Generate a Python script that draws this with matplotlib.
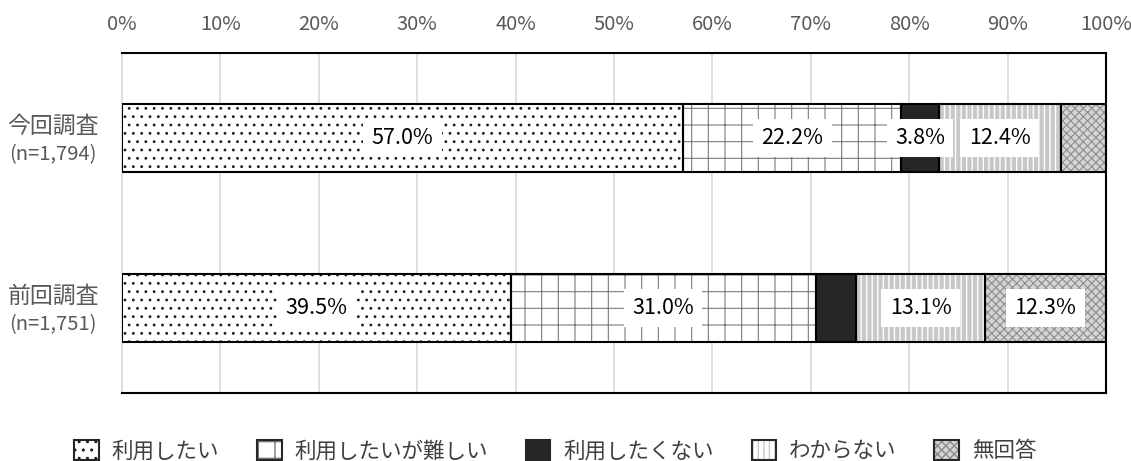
import numpy as np
import matplotlib as mpl
import matplotlib.pyplot as plt
from matplotlib.patches import Patch
from matplotlib.legend_handler import HandlerTuple

plt.rcParams['font.family'] = ['Noto Sans CJK JP', 'DejaVu Sans']

# 調査ごとの回答割合 (%)
surveys = ['今回調査', '前回調査']
samples = ['(n=1,794)', '(n=1,751)']
answers = ['利用したい', '利用したいが難しい', '利用したくない', 'わからない', '無回答']
this_time = [57.0, 22.2, 3.8, 12.4, 4.6]
last_time = [39.5, 31.0, 4.1, 13.1, 12.3]
# 表示するラベル (空欄は表示なし)
this_labels = ['57.0%', '22.2%', '3.8%', '12.4%', '']
last_labels = ['39.5%', '31.0%', '', '13.1%', '12.3%']

# 各区分の塗り (背景色, 模様の色, 模様, 模様の線幅)
styles = [
    ('white', '#1a1a1a', '..', 0.8),
    ('white', '#7a7a7a', '+', 0.8),
    ('#262626', '#262626', None, 1.0),
    ('white', '#c8c8c8', '|||', 3.0),
    ('#d4d4d4', '#8c8c8c', 'xxxx', 0.8),
]

data = np.array([this_time, last_time])
labels = [this_labels, last_labels]

fig = plt.figure(figsize=(11.31, 4.61), dpi=100)
ax = fig.add_axes([0.1079, 0.1475, 0.8700, 0.7375])

ypos = np.arange(len(surveys))
left = np.zeros(len(surveys))
handles = []
for i, name in enumerate(answers):
    fc, hc, hatch, hlw = styles[i]
    vals = data[:, i]
    with mpl.rc_context({'hatch.linewidth': hlw}):
        bars = ax.barh(ypos, vals, left=left, height=0.4, color=fc, edgecolor=hc,
                       hatch=hatch, linewidth=0, zorder=2)
        h1 = Patch(facecolor=fc, edgecolor=hc, hatch=hatch, linewidth=0)
    if hasattr(h1, 'set_hatch_linewidth'):
        h1.set_hatch_linewidth(hlw)
        for b in bars:
            b.set_hatch_linewidth(hlw)
    # 区分の枠線
    ax.barh(ypos, vals, left=left, height=0.4, fill=False,
            edgecolor='black', linewidth=1.5, zorder=3)
    h2 = Patch(fill=False, edgecolor='#262626', linewidth=1.5)
    handles.append((h1, h2))
    for j in range(len(surveys)):
        txt = labels[j][i]
        if txt:
            ax.text(left[j] + vals[j] / 2, ypos[j], txt, ha='center', va='center',
                    fontsize=15.5, color='black', zorder=4,
                    bbox=dict(facecolor='white', edgecolor='none', pad=6))
    left += vals

ax.set_xlim(0, 100)
ax.set_ylim(1.5, -0.5)
ax.set_yticks(ypos)
ax.set_yticklabels([])
for j in range(len(surveys)):
    ax.text(-0.07, ypos[j] - 0.07, surveys[j], transform=ax.get_yaxis_transform(),
            ha='center', va='center', fontsize=16.5, color='#595959')
    ax.text(-0.07, ypos[j] + 0.10, samples[j], transform=ax.get_yaxis_transform(),
            ha='center', va='center', fontsize=14.5, color='#595959')
ax.set_xticks(np.arange(0, 101, 10))
ax.set_xticklabels([f'{v}%' for v in range(0, 101, 10)], fontsize=14.5, color='#595959')
ax.xaxis.tick_top()
ax.tick_params(length=0)
ax.tick_params(axis='x', pad=13)
ax.grid(axis='x', color='#d9d9d9', linewidth=1.2, zorder=0)
ax.set_axisbelow(True)
for s in ['top', 'right', 'bottom']:
    ax.spines[s].set_color('black')
    ax.spines[s].set_linewidth(1.5)
ax.spines['left'].set_color('#d9d9d9')
ax.spines['left'].set_linewidth(1.2)

fig.legend(handles=handles, labels=answers, loc='lower center', ncol=5, frameon=False,
           fontsize=15.5, bbox_to_anchor=(0.491, -0.045), handlelength=1.15,
           handleheight=1.1, columnspacing=1.75, handletextpad=0.6,
           labelcolor='#404040', handler_map={tuple: HandlerTuple(ndivide=1)})

fig.savefig('out.png', dpi=100)
